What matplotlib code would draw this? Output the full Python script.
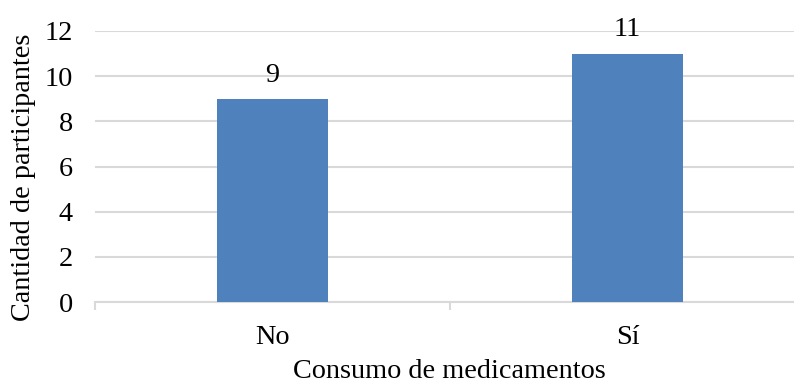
import matplotlib.pyplot as plt

# datos
categorias = ["No", "Sí"]
participantes = [9, 11]
marcas_y = [0, 2, 4, 6, 8, 10, 12]

azul = "#4f81bd"
gris = "#d9d9d9"
tam = 20.3

plt.rcParams["font.family"] = ["Liberation Serif", "DejaVu Serif"]

fig = plt.figure(figsize=(7.94, 3.85), dpi=100)
# el eje se extiende un poco más allá del borde derecho
ax = fig.add_axes([95 / 794, (385 - 302) / 385, 710 / 794, 271 / 385])

posiciones = list(range(len(categorias)))
barras = ax.bar(posiciones, participantes, width=0.31, color=azul, zorder=3)

for b, v in zip(barras, participantes):
    ax.annotate(str(v), (b.get_x() + b.get_width() / 2, v),
                xytext=(0, 8), textcoords="offset points",
                ha="center", va="bottom", fontsize=tam)

ax.set_xlim(-0.5, 1.5)
ax.set_ylim(0, 12)
ax.set_yticks(marcas_y)
ax.set_yticklabels([str(t) for t in marcas_y], fontsize=tam)
ax.tick_params(axis="y", length=0, pad=16)
ax.yaxis.grid(True, color=gris, linewidth=1.5, zorder=0)

# marcas entre categorías en el eje x
ax.set_xticks([-0.5, 0.5, 1.5])
ax.set_xticklabels([])
ax.tick_params(axis="x", length=6, width=1.5, color=gris)
for p, c in zip(posiciones, categorias):
    ax.text(p, -0.13, c, transform=ax.get_xaxis_transform(),
            ha="center", va="center", fontsize=tam)

for s in ["top", "right", "left"]:
    ax.spines[s].set_visible(False)
ax.spines["bottom"].set_color(gris)
ax.spines["bottom"].set_linewidth(1.5)

fig.text(449 / 794, 1 - 371 / 385, "Consumo de medicamentos",
         ha="center", va="center", fontsize=tam)
fig.text(24 / 794, 1 - 177 / 385, "Cantidad de participantes",
         ha="center", va="center", rotation=90, fontsize=tam)

fig.savefig("out.png", dpi=100)
